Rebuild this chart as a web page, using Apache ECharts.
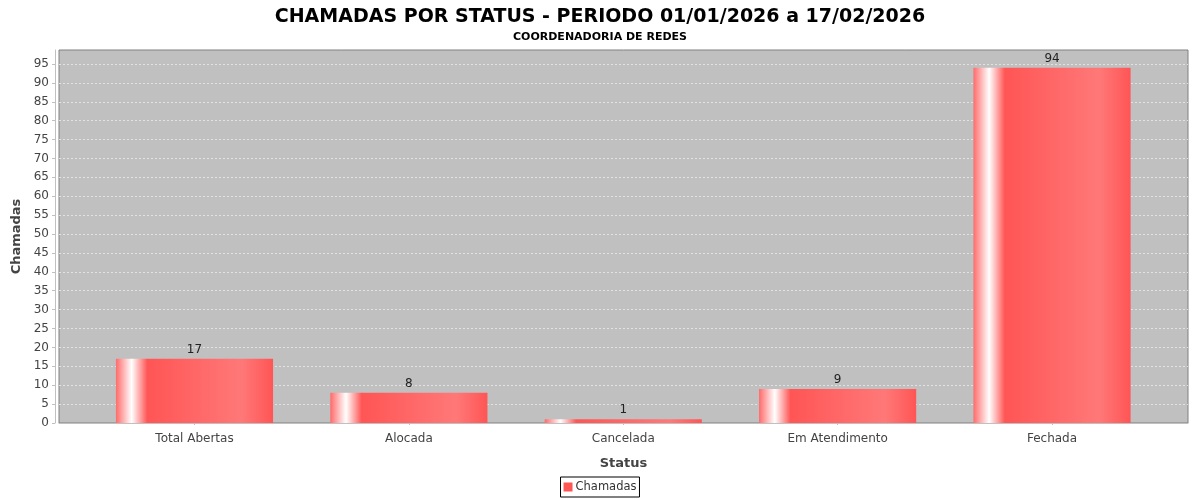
<!DOCTYPE html>
<html><head><meta charset="utf-8">
<script src="https://cdn.jsdelivr.net/npm/echarts@6/dist/echarts.min.js"></script>
<style>html,body{margin:0;padding:0;background:#fff}#c{width:1200px;height:500px}</style>
</head><body><div id="c"></div>
<script>
const categories = ['Total Abertas', 'Alocada', 'Cancelada', 'Em Atendimento', 'Fechada'];
const chamadas = [17, 8, 1, 9, 94];
const yTicks = [0,5,10,15,20,25,30,35,40,45,50,55,60,65,70,75,80,85,90,95];
const yMax = 98.7;

const F = 'DejaVu Sans';
const chart = echarts.init(document.getElementById('c'), null, {renderer: 'canvas'});
chart.setOption({
  animation: false,
  textStyle: {fontFamily: F},
  title: [{
    text: 'CHAMADAS POR STATUS - PERIODO 01/01/2026 a 17/02/2026',
    left: 'center', top: 3,
    textStyle: {fontFamily: F, fontSize: 19, fontWeight: 'bold', color: '#000'}
  }, {
    text: 'COORDENADORIA DE REDES',
    left: 'center', top: 27,
    textStyle: {fontFamily: F, fontSize: 11, fontWeight: 'bold', color: '#000'}
  }],
  legend: {
    bottom: 3, left: 'center',
    data: [{name: 'Chamadas', itemStyle: {color: '#ff5555'}}],
    icon: 'rect', itemWidth: 9, itemHeight: 9, itemGap: 4,
    borderColor: '#000', borderWidth: 1, padding: [4, 3, 4, 3],
    backgroundColor: '#fff',
    textStyle: {fontFamily: F, fontSize: 11.5, color: '#333', padding: [0,0,0,-2]}
  },
  grid: [
    {left: 59, right: 12, top: 50, bottom: 77, show: true, backgroundColor: '#c0c0c0', borderColor: '#808080', borderWidth: 1},
    {left: 87.3, right: 40.8, top: 50, bottom: 77}
  ],
  xAxis: [{
    gridIndex: 0, type: 'category', data: categories, offset: 4,
    name: 'Status', nameLocation: 'middle', nameGap: 30,
    nameTextStyle: {fontFamily: F, fontSize: 13, fontWeight: 'bold', color: '#444'},
    axisLine: {show: true, lineStyle: {color: '#c0c0c0'}},
    axisTick: {show: false}, axisLabel: {show: false}, splitLine: {show: false}
  }, {
    gridIndex: 1, type: 'category', data: categories, offset: 4,
    axisLine: {show: false},
    axisTick: {show: true, alignWithLabel: true, length: 2, lineStyle: {color: '#c0c0c0'}},
    axisLabel: {fontFamily: F, fontSize: 12, color: '#444', margin: 6},
    splitLine: {show: false}
  }],
  yAxis: [{
    gridIndex: 0, type: 'value', min: 0, max: yMax, interval: 5, offset: 4,
    name: 'Chamadas', nameLocation: 'middle', nameGap: 25, nameRotate: 90,
    nameTextStyle: {fontFamily: F, fontSize: 13, fontWeight: 'bold', color: '#444'},
    axisLine: {show: true, lineStyle: {color: '#c0c0c0'}},
    axisTick: {show: true, length: 3, lineStyle: {color: '#c0c0c0'}, customValues: yTicks},
    axisLabel: {fontFamily: F, fontSize: 12, color: '#444', margin: 6, customValues: yTicks},
    splitLine: {show: true, lineStyle: {color: '#e2e2e2', type: [2, 2], width: 1}}
  }, {
    gridIndex: 1, type: 'value', min: 0, max: yMax, show: false
  }],
  series: [{
    name: 'Chamadas', type: 'bar', xAxisIndex: 1, yAxisIndex: 1,
    data: chamadas, barWidth: '73.3%',
    itemStyle: {
      color: {
        type: 'linear', x: 0, y: 0, x2: 1, y2: 0,
        colorStops: [
          {offset: 0, color: '#ff6a6a'},
          {offset: 0.1, color: '#ffffff'},
          {offset: 0.2, color: '#ff5555'},
          {offset: 0.8, color: '#ff7878'},
          {offset: 1, color: '#ff5555'}
        ]
      }
    },
    label: {show: true, position: 'top', distance: 3, fontFamily: F, fontSize: 12, color: '#222'}
  }]
});
</script></body></html>
